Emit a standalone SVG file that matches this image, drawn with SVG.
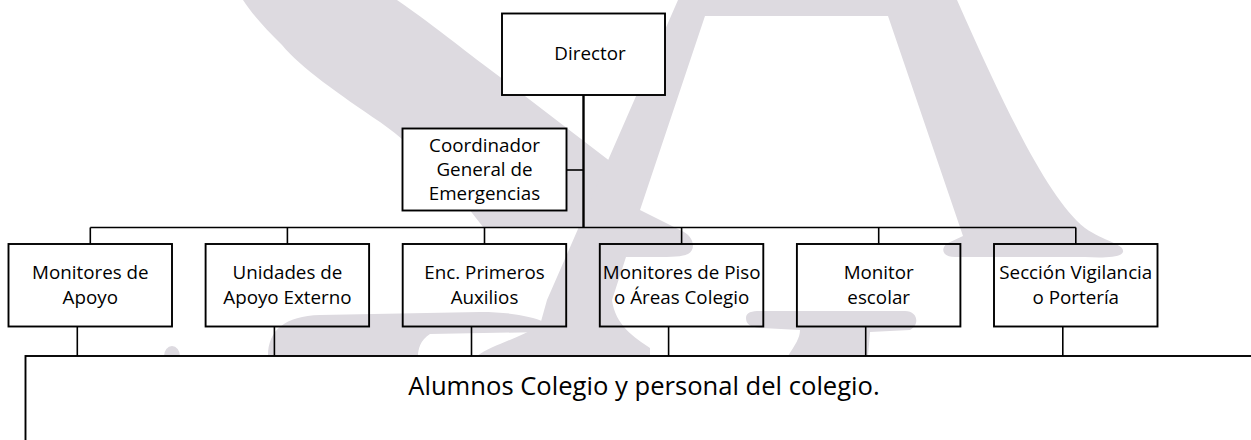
<svg xmlns="http://www.w3.org/2000/svg" width="1251" height="440" viewBox="0 0 1251 440">
<style>
.wm{fill:#dddae0;stroke:none}
.boxw{fill:#fff;stroke:#000;stroke-width:1.9}
.box{fill:none;stroke:#000;stroke-width:1.9}
.ln{stroke:#000;stroke-width:1.6;fill:none}
.trunk{stroke:#000;stroke-width:2.4;fill:none}
.t{font-family:"Open Sans","Liberation Sans",sans-serif;font-size:18.8px;fill:#000;text-anchor:middle}
.tb{font-size:25.6px}
</style>
<rect x="0" y="0" width="1251" height="440" fill="#fff"/>
<g id="watermark">
<path class="wm" d="M243,0 L397,0 C440,30 470,55 500,77 L615,165 L579,227 L483,227 C455,190 420,150 380,122 C340,95 300,67 282,45 C265,28 252,14 243,0 Z"/>
<path class="wm" d="M678,0 L957,0 C1010,120 1050,200 1085,228 C1105,242 1125,244 1123,252 C1121,258 1100,258 1085,257 L955,257 C942,257 940,248 948,243 L963,236 L888,16 L705,16 L640,210 L680,230 C695,236 696,250 688,254 C680,258 660,257 626,257 L612,300 C615,325 635,338 650,348 L650,356 L477,356 C492,345 520,338 540,325 L547,300 Z"/>
<path class="wm" d="M268,356 C268,330 285,316 320,315 L480,312 C510,312 530,316 545,322 L545,332 L430,334 C420,340 418,350 418,356 Z"/>
<path class="wm" d="M746,318 C746,312 752,311 760,311 L905,311 C918,311 920,325 910,330 L870,332 L868,356 L788,356 C795,345 800,338 800,330 L760,328 C750,327 746,324 746,318 Z"/>
<ellipse class="wm" cx="172" cy="356" rx="8" ry="10"/>
</g>
<g id="connectors">
<line class="trunk" x1="583.5" y1="95" x2="583.5" y2="227.5"/>
<line class="ln" x1="566.5" y1="170" x2="583.5" y2="170"/>
<line class="ln" x1="90.3" y1="227.5" x2="1075.8" y2="227.5" stroke-width="2"/>
<line class="ln" x1="90.3" y1="227.5" x2="90.3" y2="244"/>
<line class="ln" x1="287.4" y1="227.5" x2="287.4" y2="244"/>
<line class="ln" x1="484.5" y1="227.5" x2="484.5" y2="244"/>
<line class="ln" x1="681.6" y1="227.5" x2="681.6" y2="244"/>
<line class="ln" x1="878.7" y1="227.5" x2="878.7" y2="244"/>
<line class="ln" x1="1075.8" y1="227.5" x2="1075.8" y2="244"/>
<line class="ln" x1="77.3" y1="326.5" x2="77.3" y2="356"/>
<line class="ln" x1="274.4" y1="326.5" x2="274.4" y2="356"/>
<line class="ln" x1="471.5" y1="326.5" x2="471.5" y2="356"/>
<line class="ln" x1="668.6" y1="326.5" x2="668.6" y2="356"/>
<line class="ln" x1="865.7" y1="326.5" x2="865.7" y2="356"/>
<line class="ln" x1="1062.8" y1="326.5" x2="1062.8" y2="356"/>
</g>
<g id="n-director">
<rect class="boxw" x="502" y="13.5" width="163" height="81.5"/>
<text class="t" x="590" y="60">Director</text>
</g>
<g id="n-coordinador">
<rect class="boxw" x="402.5" y="128.5" width="164" height="82"/>
<text class="t" x="484.5" y="152">Coordinador</text>
<text class="t" x="484.5" y="176">General de</text>
<text class="t" x="484.5" y="200">Emergencias</text>
</g>
<g id="n-monitores-apoyo">
<rect class="box" x="8.5" y="244" width="163.5" height="82.5"/>
<text class="t" x="90.3" y="279">Monitores de</text>
<text class="t" x="90.3" y="304">Apoyo</text>
</g>
<g id="n-unidades">
<rect class="box" x="205.6" y="244" width="163.5" height="82.5"/>
<text class="t" x="287.4" y="279">Unidades de</text>
<text class="t" x="287.4" y="304">Apoyo Externo</text>
</g>
<g id="n-primeros-auxilios">
<rect class="box" x="402.7" y="244" width="163.5" height="82.5"/>
<text class="t" x="484.5" y="279">Enc. Primeros</text>
<text class="t" x="484.5" y="304">Auxilios</text>
</g>
<g id="n-monitores-piso">
<rect class="box" x="599.8" y="244" width="163.5" height="82.5"/>
<text class="t" x="681.6" y="279">Monitores de Piso</text>
<text class="t" x="681.6" y="304">o Áreas Colegio</text>
</g>
<g id="n-monitor-escolar">
<rect class="box" x="796.9" y="244" width="163.5" height="82.5"/>
<text class="t" x="878.7" y="279">Monitor</text>
<text class="t" x="878.7" y="304">escolar</text>
</g>
<g id="n-vigilancia">
<rect class="box" x="994" y="244" width="163.5" height="82.5"/>
<text class="t" x="1075.8" y="279">Sección Vigilancia</text>
<text class="t" x="1075.8" y="304">o Portería</text>
</g>
<g id="n-alumnos">
<rect class="boxw" x="25.5" y="356" width="1240" height="100"/>
<text class="t tb" x="644" y="395">Alumnos Colegio y personal del colegio.</text>
</g>
</svg>
